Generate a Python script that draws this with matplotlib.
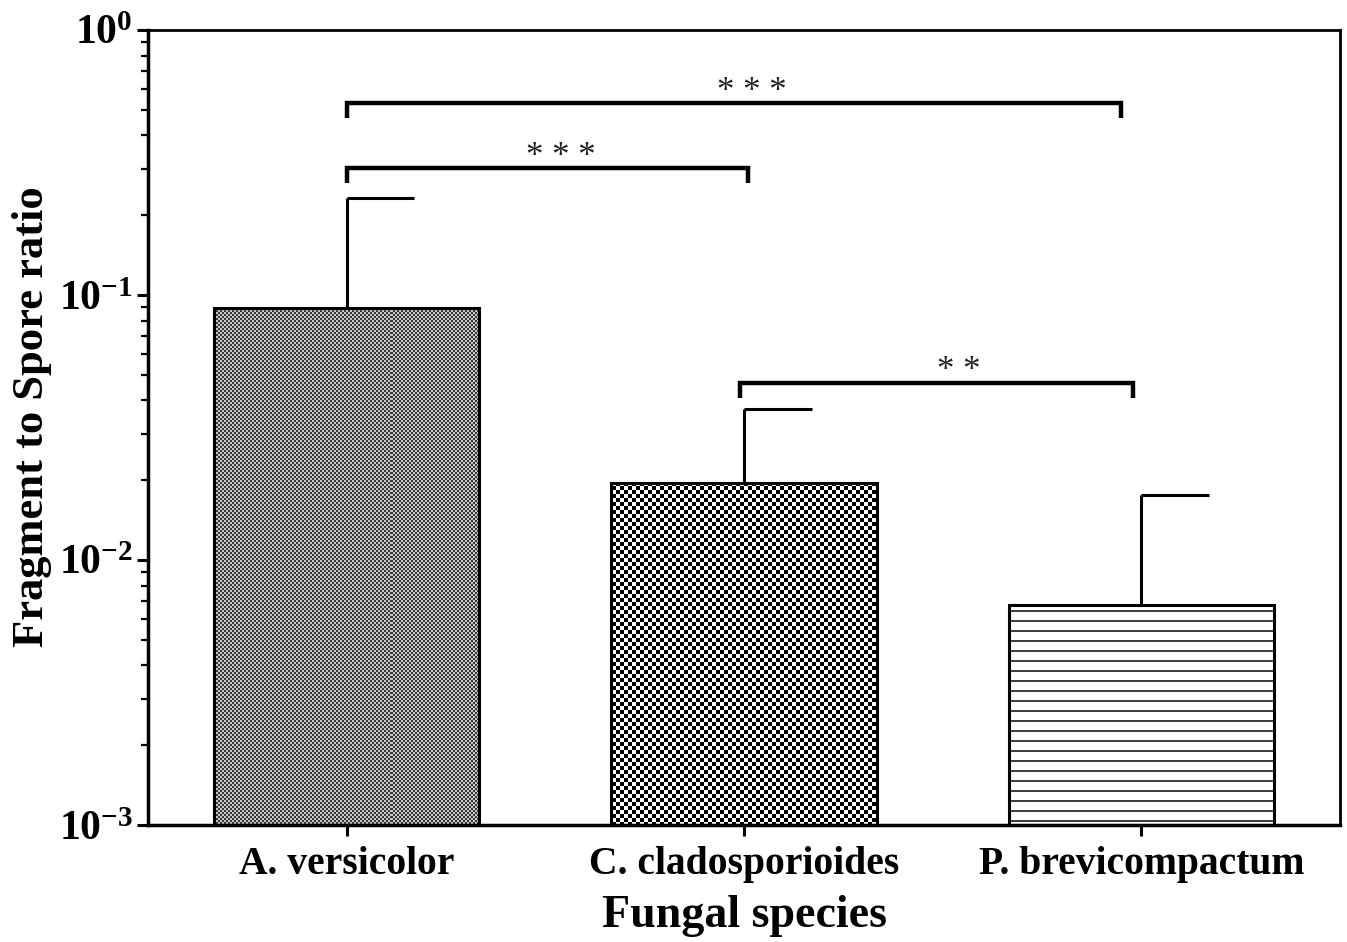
import numpy as np
import matplotlib
matplotlib.use("Agg")
import matplotlib.pyplot as plt
from matplotlib.ticker import LogLocator, NullFormatter, LogFormatterMathtext

# ---- data ----
categories = ["A. versicolor", "C. cladosporioides", "P. brevicompactum"]
means = [0.089, 0.0195, 0.00676]
upper = [0.232, 0.0371, 0.0176]          # mean + error (upper end)
# significance brackets
brackets_x0 = [0.0, 0.0, 0.99]
brackets_x1 = [1.95, 1.01, 1.98]
brackets_y = [0.530, 0.301, 0.0466]
brackets_drop = [0.466, 0.265, 0.0409]
brackets_lbl = ["* * *", "* * *", "* *"]
brackets_lx = [1.02, 0.54, 1.54]

plt.rcParams['mathtext.fontset'] = 'custom'
plt.rcParams['mathtext.rm'] = 'Liberation Serif:bold'
plt.rcParams['mathtext.it'] = 'Liberation Serif:bold'
plt.rcParams['mathtext.bf'] = 'Liberation Serif:bold'
plt.rcParams['mathtext.default'] = 'rm'
plt.rcParams['font.family'] = ['Liberation Serif', 'DejaVu Serif']
plt.rcParams['font.weight'] = 'bold'

W, H = 1347, 942
fig = plt.figure(figsize=(W / 100, H / 100), dpi=100)
L, R, B, T = 148, 1340, 825, 30
ax = fig.add_axes([L / W, 1 - B / H, (R - L) / W, (B - T) / H])
ax.set_yscale('log')
ax.set_ylim(1e-3, 1)
ax.set_xlim(-0.5, 2.5)

x = np.arange(len(categories))
bw = 0.667
ymin = ax.get_ylim()[0]
heights = [m - ymin for m in means]

# textures (styling only)
pw, ph = R - L, B - T
yy, xx = np.mgrid[0:ph, 0:pw]
tex_a = np.where(((xx // 2) + (yy // 2)) % 2 == 0, 0.22, 0.78)
tex_c = np.where(((xx // 4) + (yy // 4)) % 2 == 0, 0.0, 1.0)
tex_p = np.where((yy % 10) < 2, 0.25, 1.0)
textures = [tex_a, tex_c, tex_p]

bars = ax.bar(x, heights, bottom=ymin, width=bw, facecolor='none',
              edgecolor='black', linewidth=2.2, zorder=3)
for b, tex in zip(bars, textures):
    im = ax.imshow(tex, cmap='gray', vmin=0, vmax=1, extent=[0, 1, 0, 1],
                   transform=ax.transAxes, interpolation='nearest',
                   aspect='auto', zorder=2)
    im.set_clip_path(b)
ax.set_xlim(-0.5, 2.5)
ax.set_ylim(1e-3, 1)

# error bars (upper only, half cap to the right)
cap = 0.17
for xi, m, u in zip(x, means, upper):
    ax.plot([xi, xi], [m, u], color='black', lw=2.2, zorder=4, solid_capstyle='butt')
    ax.plot([xi, xi + cap], [u, u], color='black', lw=2.2, zorder=4, solid_capstyle='butt')

# significance brackets
for x0, x1, yb, yd, lbl, lx in zip(brackets_x0, brackets_x1, brackets_y,
                                   brackets_drop, brackets_lbl, brackets_lx):
    ax.plot([x0, x0, x1, x1], [yd, yb, yb, yd], color='black', lw=3.2,
            zorder=5, solid_joinstyle='miter', solid_capstyle='butt')
    ax.annotate(lbl, xy=(lx, yb), xytext=(0, -4), textcoords='offset points',
                ha='center', va='bottom', fontsize=25, fontweight='normal',
                color='#222222', zorder=6)

# axes styling
for s in ax.spines.values():
    s.set_linewidth(2.0)
ax.spines['left'].set_linewidth(2.5)
ax.spines['bottom'].set_linewidth(2.5)

ax.yaxis.set_major_locator(LogLocator(base=10, numticks=10))
ax.yaxis.set_minor_locator(LogLocator(base=10, subs=np.arange(2, 10), numticks=20))
ax.yaxis.set_major_formatter(LogFormatterMathtext())
ax.yaxis.set_minor_formatter(NullFormatter())
ax.tick_params(axis='y', which='major', direction='out', length=8, width=2.2,
               labelsize=30, pad=3, right=False)
ax.tick_params(axis='y', which='minor', direction='out', length=5, width=1.6, right=False)
ax.set_xticks(x)
ax.set_xticklabels(categories, fontsize=28.5, fontweight='bold')
ax.tick_params(axis='x', which='major', direction='out', length=8, width=2.2,
               pad=7, top=False)
ax.tick_params(axis='x', which='minor', bottom=False, top=False)

ax.set_xlabel("Fungal species", fontsize=33, fontweight='bold')
ax.xaxis.set_label_coords(0.5, -0.115)
ax.xaxis.label.set_va('center')
ax.set_ylabel("Fragment to Spore ratio", fontsize=32, fontweight='bold')
ax.yaxis.set_label_coords(-0.097, 0.514)
ax.yaxis.label.set_va('center')

fig.savefig("out.png", dpi=100)
